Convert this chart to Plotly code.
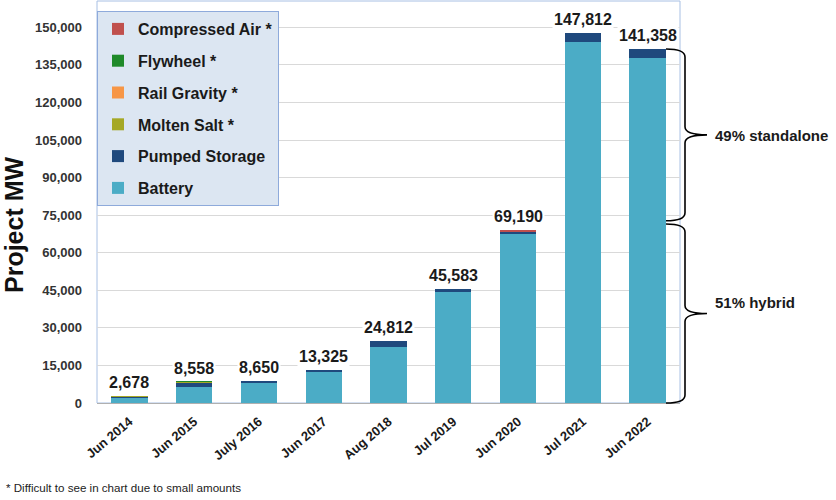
import plotly.graph_objects as go

# ---------------- data ----------------
categories = ["Jun 2014", "Jun 2015", "July 2016", "Jun 2017", "Aug 2018",
              "Jul 2019", "Jun 2020", "Jul 2021", "Jun 2022"]
battery        = [2338, 6508, 8050, 12725, 22412, 44483, 67690, 144112, 137758]
pumped_storage = [300, 1850, 600, 600, 2400, 1100, 700, 3700, 3600]
molten_salt    = [40, 150, 0, 0, 0, 0, 0, 0, 0]
rail_gravity   = [0, 0, 0, 0, 0, 0, 0, 0, 0]
flywheel       = [0, 50, 0, 0, 0, 0, 0, 0, 0]
compressed_air = [0, 0, 0, 0, 0, 0, 800, 0, 0]
totals         = [2678, 8558, 8650, 13325, 24812, 45583, 69190, 147812, 141358]
y_ticks        = [0, 15000, 30000, 45000, 60000, 75000, 90000, 105000, 120000, 135000, 150000]
hybrid_share   = 0.51
footnote = "* Difficult to see in chart due to small amounts"

# ---------------- styling ----------------
FONT = "Liberation Sans, Arial, sans-serif"
W, H = 836, 500
ML, MR, MT, MB = 97, 156, 1, 97
YMAX = 160500

series = [
    ("Battery", battery, "#4bacc6", 6),
    ("Pumped Storage", pumped_storage, "#1f497d", 5),
    ("Molten Salt *", molten_salt, "#a5a826", 4),
    ("Rail Gravity *", rail_gravity, "#f79646", 3),
    ("Flywheel *", flywheel, "#1f8a2a", 2),
    ("Compressed Air *", compressed_air, "#c0504d", 1),
]

fig = go.Figure()
for name, vals, col, rank in series:
    fig.add_trace(go.Bar(
        x=categories, y=vals, name=f"<b>{name}</b>",
        marker=dict(color=col, line=dict(width=0)),
        legendgroup=name, legendrank=rank,
    ))

# total labels above bars
for c, t in zip(categories, totals):
    fig.add_annotation(x=c, y=t, text=f"<b>{t:,}</b>", showarrow=False,
                       yanchor="bottom", yshift=3, bgcolor="white",
                       font=dict(family=FONT, size=16, color="#1a1a1a"))

pw = W - ML - MR
ph = H - MT - MB
def px(x):
    return (x - ML) / pw

def brace(x0, xv, xt, ytop, ybot, ry=0.02):
    ymid = (ytop + ybot) / 2
    return (f"M {x0},{ytop} Q {xv},{ytop} {xv},{ytop-ry} "
            f"L {xv},{ymid+ry} Q {xv},{ymid} {xt},{ymid} "
            f"Q {xv},{ymid} {xv},{ymid-ry} "
            f"L {xv},{ybot+ry} Q {xv},{ybot} {x0},{ybot}")

top_2022 = totals[-1] / YMAX
split = totals[-1] * hybrid_share / YMAX
bx0, bxv, bxt = px(666), px(685), px(707)
shapes = [
    dict(type="path", xref="paper", yref="paper",
         path=brace(bx0, bxv, bxt, top_2022, split + 0.004), line=dict(color="black", width=1.6)),
    dict(type="path", xref="paper", yref="paper",
         path=brace(bx0, bxv, bxt, split - 0.004, 0), line=dict(color="black", width=1.6)),
    dict(type="rect", xref="paper", yref="paper", x0=0, x1=1, y0=0, y1=1,
         line=dict(color="#a8c0e4", width=1), layer="below"),
]
fig.add_annotation(xref="paper", yref="paper", x=px(713), y=(top_2022 + split) / 2,
                   text=f"<b>{round((1-hybrid_share)*100)}% standalone</b>", showarrow=False,
                   xanchor="left", font=dict(family=FONT, size=15, color="#1a1a1a"))
fig.add_annotation(xref="paper", yref="paper", x=px(713), y=split / 2,
                   text=f"<b>{round(hybrid_share*100)}% hybrid</b>", showarrow=False,
                   xanchor="left", font=dict(family=FONT, size=15, color="#1a1a1a"))

fig.add_annotation(xref="paper", yref="paper", x=px(14), y=(403 - 225) / ph,
                   text="<b>Project MW</b>", textangle=-90, showarrow=False,
                   xanchor="center", yanchor="middle",
                   font=dict(family=FONT, size=25, color="#111"))
fig.add_annotation(xref="paper", yref="paper", x=px(4), y=(403 - 487) / ph,
                   text=footnote, showarrow=False, xanchor="left", yanchor="middle",
                   font=dict(family=FONT, size=11.6, color="#222"))

fig.update_layout(
    width=W, height=H, barmode="stack", bargap=0.44,
    margin=dict(l=ML, r=MR, t=MT, b=MB, autoexpand=False),
    paper_bgcolor="white", plot_bgcolor="white",
    shapes=shapes,
    font=dict(family=FONT, color="#222"),
    legend=dict(x=0, y=(403 - 11) / ph, xanchor="left", yanchor="top",
                traceorder="grouped", tracegroupgap=8,
                bgcolor="#dce6f2", bordercolor="#8eaadb", borderwidth=1,
                font=dict(family=FONT, size=16, color="#1a1a1a"),
                itemclick=False),
    xaxis=dict(showgrid=False, showline=True, linecolor="#b0b0b0", linewidth=1,
               tickangle=-40, ticklabelstandoff=5,
               tickfont=dict(family=FONT, size=13, color="#1a1a1a", weight="bold"),
               ticks="", range=[-0.5, 8.5]),
    yaxis=dict(range=[0, YMAX], tickvals=y_ticks, tickformat=",",
               showgrid=True, gridcolor="#d9d9d9", gridwidth=1, zeroline=False,
               ticklabelstandoff=14,
               tickfont=dict(family=FONT, size=13, color="#333", weight="bold")),
)

fig.write_html("out.html", config={"displayModeBar": False},
               post_script="document.body.style.margin='0';document.body.style.overflow='hidden';")
